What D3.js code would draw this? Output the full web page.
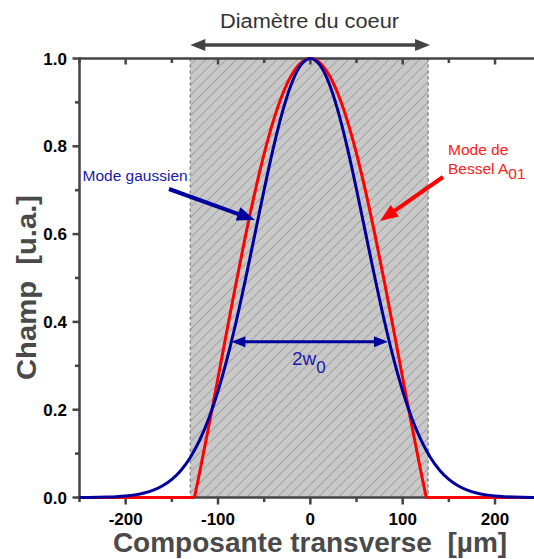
<!DOCTYPE html>
<html><head><meta charset="utf-8">
<script src="https://cdn.jsdelivr.net/npm/d3@7"></script>
<style>body{margin:0;background:#fff} svg{display:block} text{font-family:"Liberation Sans",Arial,sans-serif}</style>
</head><body><svg id="c" width="534" height="559"></svg>
<script>
// ---- data ----
const gaussX = [-250,-240,-230,-220,-210,-200,-190,-180,-170,-160,-150,-140,-130,-120,-110,-100,-90,-80,-70,-60,-50,-40,-30,-20,-10,0,10,20,30,40,50,60,70,80,90,100,110,120,130,140,150,160,170,180,190,200,210,220,230,240,250];
const gaussValues = [0.00014,0.00028,0.00055,0.00105,0.0019,0.00345,0.006,0.0101,0.0166,0.0266,0.0412,0.0622,0.0912,0.1299,0.18,0.2424,0.3173,0.4037,0.4994,0.6004,0.7017,0.7971,0.8802,0.9449,0.9859,1,0.9859,0.9449,0.8802,0.7971,0.7017,0.6004,0.4994,0.4037,0.3173,0.2424,0.18,0.1299,0.0912,0.0622,0.0412,0.0266,0.0166,0.0101,0.006,0.00345,0.0019,0.00105,0.00055,0.00028,0.00014];
const besselX = [-250,-200,-150,-130,-125.5,-120,-110,-100,-90,-80,-70,-60,-50,-40,-30,-20,-10,0,10,20,30,40,50,60,70,80,90,100,110,120,125.5,130,150,200,250];
const besselValues = [0,0,0,0,0,0.0557,0.1622,0.2723,0.3837,0.4933,0.5983,0.6958,0.7833,0.8584,0.9191,0.9636,0.9908,1,0.9908,0.9636,0.9191,0.8584,0.7833,0.6958,0.5983,0.4933,0.3837,0.2723,0.1622,0.0557,0,0,0,0,0];
const coreEdges = [-130, 127.5];
const waistEnds = [-85.5, 84];
const waistLevel = 0.355;
const xTickValues = [-200,-100,0,100,200];
const xMinorTicks = [-250,-150,-50,50,150,250];
const yTickValues = [0,0.2,0.4,0.6,0.8,1.0];
const yMinorTicks = [0.1,0.3,0.5,0.7,0.9];

// ---- drawing ----
const svg = d3.select("#c");
const x = d3.scaleLinear().domain([-250,250]).range([79.5,541.2]);
const y = d3.scaleLinear().domain([0,1]).range([497.5,58.5]);
const axisColor = "#444";
const blue = "#00009c", red = "#ff0000";

const defs = svg.append("defs");
const pat = defs.append("pattern").attr("id","hatch").attr("patternUnits","userSpaceOnUse")
  .attr("width",7.2).attr("height",7.2).attr("patternTransform","rotate(45)");
pat.append("rect").attr("width",7.2).attr("height",7.2).attr("fill","#c8c8c8");
pat.append("line").attr("x1",0).attr("y1",0).attr("x2",0).attr("y2",7.2).attr("stroke","#7e7e7e").attr("stroke-width",1);

// core region
svg.append("rect").attr("x",x(coreEdges[0])).attr("y",y(1)).attr("width",x(coreEdges[1])-x(coreEdges[0]))
  .attr("height",y(0)-y(1)).attr("fill","url(#hatch)");
coreEdges.forEach(v=>{
  svg.append("line").attr("x1",x(v)).attr("x2",x(v)).attr("y1",y(1)).attr("y2",y(0))
    .attr("stroke","#888").attr("stroke-width",1.5).attr("stroke-dasharray","3,3");
});

// axes
const gAx = svg.append("g").attr("stroke",axisColor).attr("stroke-width",2.5);
gAx.append("line").attr("x1",x(-250)).attr("x2",560).attr("y1",y(0)).attr("y2",y(0));
gAx.append("line").attr("x1",x(-250)).attr("x2",560).attr("y1",y(1)).attr("y2",y(1));
gAx.append("line").attr("x1",x(-250)).attr("x2",x(-250)).attr("y1",y(0)+1.25).attr("y2",y(1)-1.25);
xTickValues.forEach(v=>{
  gAx.append("line").attr("x1",x(v)).attr("x2",x(v)).attr("y1",y(0)).attr("y2",y(0)+7);
  gAx.append("line").attr("x1",x(v)).attr("x2",x(v)).attr("y1",y(1)).attr("y2",y(1)+6);
});
xMinorTicks.forEach(v=>{
  gAx.append("line").attr("x1",x(v)).attr("x2",x(v)).attr("y1",y(0)).attr("y2",y(0)+4.5);
  gAx.append("line").attr("x1",x(v)).attr("x2",x(v)).attr("y1",y(1)).attr("y2",y(1)+4.5);
});
yTickValues.forEach(v=>{
  gAx.append("line").attr("x1",x(-250)).attr("x2",x(-250)-7).attr("y1",y(v)).attr("y2",y(v));
});
yMinorTicks.forEach(v=>{
  gAx.append("line").attr("x1",x(-250)).attr("x2",x(-250)-4.5).attr("y1",y(v)).attr("y2",y(v));
});
svg.append("g").selectAll("text").data(xTickValues).join("text")
  .attr("x",d=>x(d)).attr("y",524.5).attr("text-anchor","middle").attr("font-size",17).attr("font-weight","bold")
  .text(d=>d);
svg.append("g").selectAll("text").data(yTickValues).join("text")
  .attr("x",67).attr("y",d=>y(d)+6).attr("text-anchor","end").attr("font-size",17).attr("font-weight","bold")
  .text(d=>d.toFixed(1));

// axis titles
svg.append("text").attr("x",310).attr("y",552).attr("text-anchor","middle").attr("font-size",28)
  .attr("font-weight","bold").attr("fill","#4a4a4a").attr("xml:space","preserve").text("Composante transverse  [µm]");
svg.append("text").attr("transform","translate(36,287.5) rotate(-90)").attr("text-anchor","middle").attr("font-size",27)
  .attr("font-weight","bold").attr("fill","#4a4a4a").attr("xml:space","preserve")
  .attr("textLength",185).attr("lengthAdjust","spacingAndGlyphs").text("Champ  [u.a.]");

// curves
const bx = besselX.map((v,i)=>({x:v,y:besselValues[i]}));
const lin = d3.line().x(d=>x(d.x)).y(d=>y(d.y));
const mono = d3.line().x(d=>x(d.x)).y(d=>y(d.y)).curve(d3.curveMonotoneX);
const lobe = bx.filter(d=>Math.abs(d.x)<=125.5);
svg.append("path").attr("d",lin(bx.filter(d=>d.x<=-125.5))).attr("fill","none").attr("stroke",red).attr("stroke-width",3);
svg.append("path").attr("d",lin(bx.filter(d=>d.x>=125.5))).attr("fill","none").attr("stroke",red).attr("stroke-width",3);
svg.append("path").attr("d",mono(lobe)).attr("fill","none").attr("stroke",red).attr("stroke-width",3).attr("stroke-linejoin","round");
const gx = gaussX.map((v,i)=>({x:v,y:gaussValues[i]}));
svg.append("path").attr("d",mono(gx)).attr("fill","none").attr("stroke",blue).attr("stroke-width",3);

// arrow helper
function arrow(x1,y1,x2,y2,color,w,hl,hw,both){
  const a = Math.atan2(y2-y1,x2-x1);
  const head=(px,py,ang)=>{
    const bx=px-hl*Math.cos(ang), by=py-hl*Math.sin(ang);
    const nx=-Math.sin(ang)*hw, ny=Math.cos(ang)*hw;
    svg.append("path").attr("d",`M${px},${py}L${bx+nx},${by+ny}L${bx-nx},${by-ny}Z`).attr("fill",color);
  };
  const sx = both? x1+(hl-2)*Math.cos(a):x1, sy = both? y1+(hl-2)*Math.sin(a):y1;
  svg.append("line").attr("x1",sx).attr("y1",sy).attr("x2",x2-(hl-2)*Math.cos(a)).attr("y2",y2-(hl-2)*Math.sin(a))
    .attr("stroke",color).attr("stroke-width",w);
  head(x2,y2,a);
  if(both) head(x1,y1,a+Math.PI);
}

// core diameter annotation
arrow(x(coreEdges[0]),45,x(coreEdges[1])+2,45,"#444",3.5,15,6,true);
svg.append("text").attr("x",220).attr("y",27.5).attr("font-size",19.5).attr("fill","#333")
  .attr("textLength",179).attr("lengthAdjust","spacingAndGlyphs").text("Diamètre du coeur");

// 2w0
arrow(x(waistEnds[0]),y(waistLevel),x(waistEnds[1]),y(waistLevel),blue,3,14,5.5,true);
const tw = svg.append("text").attr("x",292).attr("y",365).attr("font-size",19).attr("fill","#1a1aaa");
tw.append("tspan").text("2w");
tw.append("tspan").attr("dy",8).attr("font-size",17).text("0");

// labels
svg.append("text").attr("x",82.5).attr("y",181).attr("font-size",15.5).attr("fill","#1a1aaa").text("Mode gaussien");
arrow(169,189,255,220,blue,4,18,7,false);
svg.append("text").attr("x",448).attr("y",155).attr("font-size",15.5).attr("fill","#ff2020").text("Mode de");
const bt = svg.append("text").attr("x",448).attr("y",174).attr("font-size",15.5).attr("fill","#ff2020");
bt.append("tspan").text("Bessel A");
bt.append("tspan").attr("dy",5).attr("font-size",15.5).text("01");
arrow(443,177,380,221,red,4,18,7,false);
</script></body></html>
